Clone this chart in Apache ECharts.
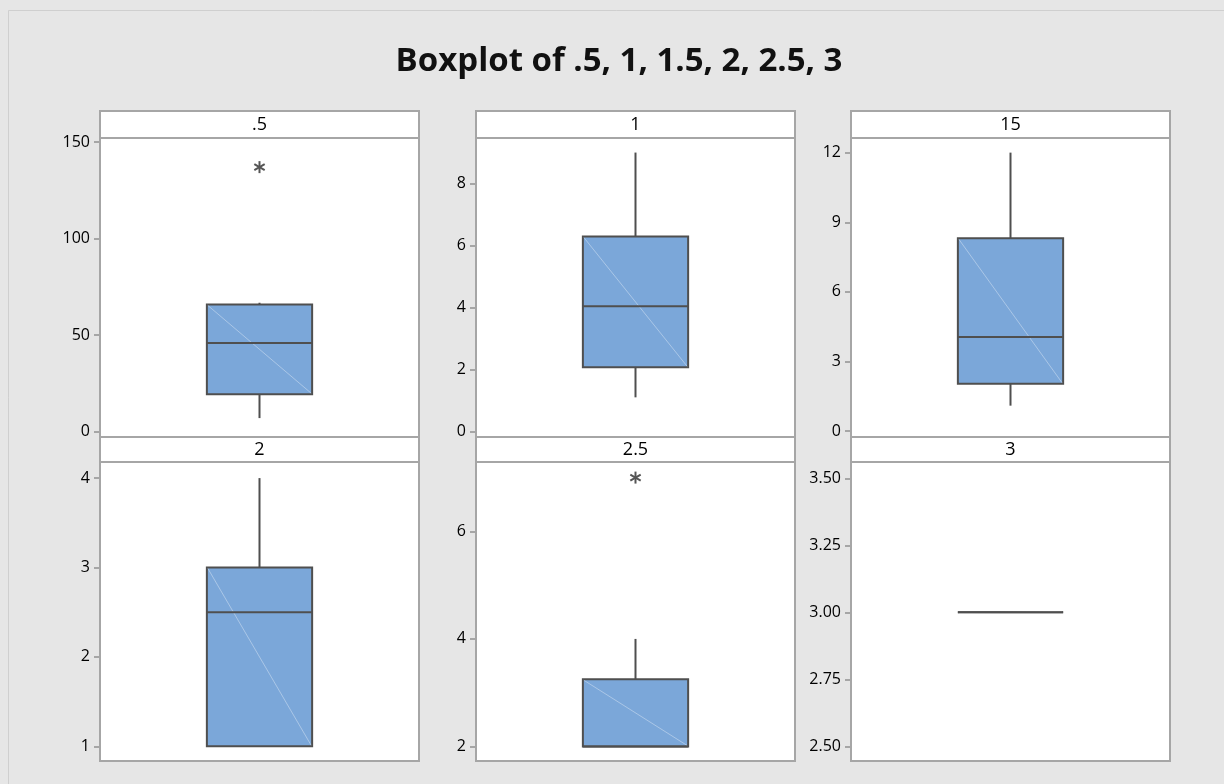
<!DOCTYPE html>
<html>
<head>
<meta charset="utf-8">
<script src="https://cdn.jsdelivr.net/npm/echarts@6/dist/echarts.min.js"></script>
<style>html,body{margin:0;padding:0;background:#e6e6e6;}#c{width:1224px;height:784px;}</style>
</head>
<body>
<div id="c"></div>
<script>
// ---- data ----
const titleText = 'Boxplot of .5, 1, 1.5, 2, 2.5, 3';
const panelNames = ['.5', '1', '15', '2', '2.5', '3'];
// [min whisker, Q1, median, Q3, max whisker]
const box_05 = [6.9, 19.3, 45.8, 65.8, 66.7];
const box_1 = [1.1, 2.07, 4.04, 6.29, 9.0];
const box_15 = [1.1, 2.04, 4.06, 8.31, 12.0];
const box_2 = [1.0, 1.0, 2.5, 3.0, 4.0];
const box_25 = [2.0, 2.0, 2.0, 3.25, 4.0];
const box_3 = [3.0, 3.0, 3.0, 3.0, 3.0];
const outliers_05 = [137];
const outliers_1 = [];
const outliers_15 = [];
const outliers_2 = [];
const outliers_25 = [7];
const outliers_3 = [];
// y-axis ticks
const ticks_05 = [0, 50, 100, 150];
const ticks_1 = [0, 2, 4, 6, 8];
const ticks_15 = [0, 3, 6, 9, 12];
const ticks_2 = [1, 2, 3, 4];
const ticks_25 = [2, 4, 6];
const ticks_3 = [2.5, 2.75, 3.0, 3.25, 3.5];
// y-axis limits
const ymin = [-2.9, -0.18, -0.25, 0.835, 1.73, 2.445];
const ymax = [152.1, 9.47, 12.63, 4.18, 7.29, 3.561];

const boxes = [box_05, box_1, box_15, box_2, box_25, box_3];
const outs = [outliers_05, outliers_1, outliers_15, outliers_2, outliers_25, outliers_3];
const ticks = [ticks_05, ticks_1, ticks_15, ticks_2, ticks_25, ticks_3];

// ---- layout ----
const colLeft = [100, 476, 851];
const panelW = 319;
const headTop = [111, 437];
const headH = [27, 25];
const plotTop = [138, 462];
const plotH = 299;

const FONT = '"Open Sans", "Noto Sans", sans-serif';
const BORDER = '#a6a6a6';
const DARK = '#4f4f4f';
const FILL = '#7ba7d9';

const grids = [], xAxes = [], yAxes = [], series = [], graphics = [];

graphics.push({
  type: 'rect', z: -10, silent: true,
  shape: { x: 8.5, y: 10.5, width: 1400, height: 1000 },
  style: { fill: '#e6e6e6', stroke: '#cfcfcf', lineWidth: 1 }
});
graphics.push({
  type: 'text', z: 10,
  style: { text: titleText, x: 619, y: 62, align: 'center', verticalAlign: 'middle',
           font: 'bold 33px ' + FONT, fill: '#111' }
});

for (let i = 0; i < 6; i++) {
  const r = Math.floor(i / 3), c = i % 3;
  grids.push({
    left: colLeft[c], top: plotTop[r], width: panelW, height: plotH,
    show: true, backgroundColor: '#fff', borderColor: BORDER, borderWidth: 2
  });
  xAxes.push({
    type: 'category', gridIndex: i, data: [panelNames[i]], show: false
  });
  const dec = i === 5 ? 2 : 0;
  yAxes.push({
    type: 'value', gridIndex: i, min: ymin[i], max: ymax[i],
    axisLine: { show: false },
    splitLine: { show: false },
    axisTick: { show: true, length: 6, customValues: ticks[i], lineStyle: { color: BORDER, width: 2 } },
    axisLabel: {
      customValues: ticks[i], margin: 10, color: '#000', fontSize: 16, fontWeight: 500, fontFamily: FONT,
      formatter: v => Number(v).toFixed(dec)
    }
  });
  series.push({
    type: 'custom', xAxisIndex: i, yAxisIndex: i,
    data: [[0].concat(boxes[i])],
    encode: { x: 0, y: [1, 2, 3, 4, 5] },
    renderItem: function (params, api) {
      const x0 = api.value(0);
      const cx = api.coord([x0, api.value(3)])[0];
      const yv = k => api.coord([x0, api.value(k)])[1];
      const bw = api.size([1, 0])[0] * 0.33;
      const yMin = yv(1), yQ1 = yv(2), yMed = yv(3), yQ3 = yv(4), yMax = yv(5);
      const L = cx - bw / 2, R = cx + bw / 2;
      const ls = { stroke: DARK, lineWidth: 2 };
      return {
        type: 'group',
        children: [
          { type: 'line', shape: { x1: cx, y1: yQ3, x2: cx, y2: yMax }, style: ls },
          { type: 'line', shape: { x1: cx, y1: yQ1, x2: cx, y2: yMin }, style: ls },
          { type: 'rect', shape: { x: L, y: yQ3, width: bw, height: yQ1 - yQ3 },
            style: { fill: FILL, stroke: DARK, lineWidth: 2 } },
          { type: 'line', shape: { x1: L + 1, y1: yQ3 + 1, x2: R - 1, y2: yQ1 - 1 },
            style: { stroke: 'rgba(255,255,255,0.45)', lineWidth: 0.8 } },
          { type: 'line', shape: { x1: L, y1: yMed, x2: R, y2: yMed }, style: ls }
        ]
      };
    }
  });
  if (outs[i].length) {
    series.push({
      type: 'custom', xAxisIndex: i, yAxisIndex: i,
      data: outs[i].map(v => [0, v]),
      encode: { x: 0, y: 1 },
      renderItem: function (params, api) {
        const p = api.coord([api.value(0), api.value(1)]);
        const s = 6;
        const st = { stroke: '#555', lineWidth: 2 };
        const a = Math.PI / 6;
        return {
          type: 'group',
          children: [
            { type: 'line', shape: { x1: p[0], y1: p[1] - s, x2: p[0], y2: p[1] + s }, style: st },
            { type: 'line', shape: { x1: p[0] - s * Math.cos(a), y1: p[1] - s * Math.sin(a), x2: p[0] + s * Math.cos(a), y2: p[1] + s * Math.sin(a) }, style: st },
            { type: 'line', shape: { x1: p[0] - s * Math.cos(a), y1: p[1] + s * Math.sin(a), x2: p[0] + s * Math.cos(a), y2: p[1] - s * Math.sin(a) }, style: st }
          ]
        };
      }
    });
  }
  // header strip
  graphics.push({
    type: 'rect', z: 5, silent: true,
    shape: { x: colLeft[c], y: headTop[r], width: panelW, height: headH[r] },
    style: { fill: '#fff', stroke: BORDER, lineWidth: 2 }
  });
  graphics.push({
    type: 'text', z: 6, silent: true,
    style: { text: panelNames[i], x: colLeft[c] + panelW / 2, y: headTop[r] + headH[r] / 2 + 0.5,
             align: 'center', verticalAlign: 'middle', font: '500 18px ' + FONT, fill: '#000' }
  });
}

const chart = echarts.init(document.getElementById('c'), null, { renderer: 'canvas' });
chart.setOption({
  backgroundColor: '#e6e6e6',
  animation: false,
  grid: grids, xAxis: xAxes, yAxis: yAxes, series: series,
  graphic: { elements: graphics }
});
</script>
</body>
</html>
